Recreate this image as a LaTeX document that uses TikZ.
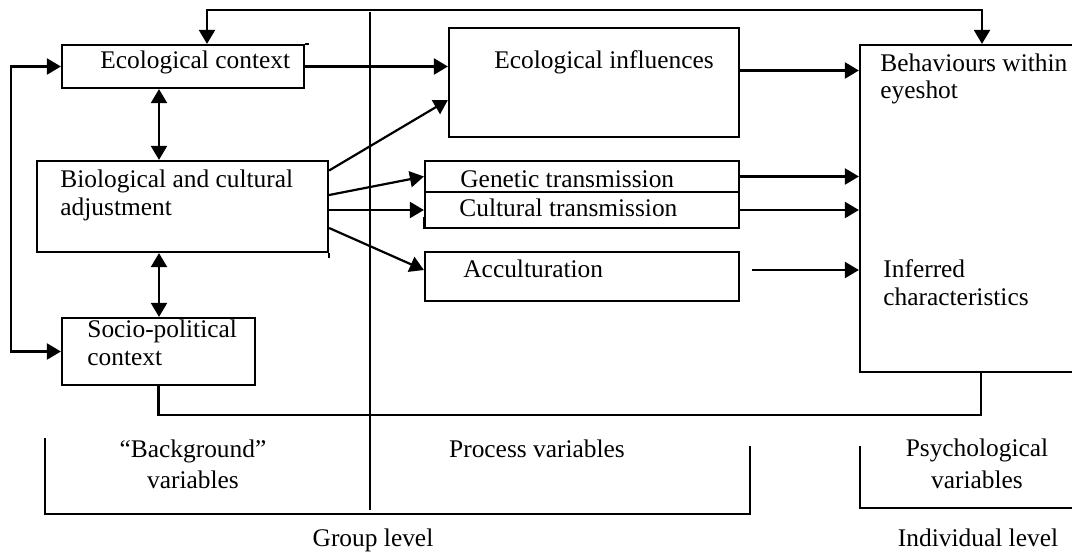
\documentclass[tikz,border=0pt]{standalone}
\usepackage{fontspec}
\setmainfont{Liberation Serif}
\usetikzlibrary{arrows.meta}

\tikzset{
    box/.style={draw, line width=1.1pt, inner sep=0pt},
    lbl/.style={inner sep=0pt, anchor=base west, font=\fontsize{12.7}{14}\selectfont},
    clbl/.style={inner sep=0pt, anchor=base, font=\fontsize{12.7}{14}\selectfont},
    line/.style={line width=1.1pt},
    arr/.style={line width=1.1pt, -{Triangle[length=7pt,width=8pt]}},
    darr/.style={line width=1.1pt, {Triangle[length=7pt,width=8pt]}-{Triangle[length=7pt,width=8pt]}},
}

\begin{document}
\begin{tikzpicture}[x=0.5pt,y=-0.5pt]
    \useasboundingbox (0,0) rectangle (1072,552);

    \coordinate (topl) at (207,10);
    \coordinate (topr) at (982,10);
    \coordinate (loopl) at (11,200);
    \coordinate (vx) at (159,0);
    \coordinate (fb) at (981,415);
    \coordinate (divtop) at (370,12);
    \coordinate (divbot) at (370,510);

    % boxes
    \node[box, minimum width=121pt, minimum height=21.5pt] (ecoctx) at (183,66.5) {};
    \node[box, minimum width=145.5pt, minimum height=45.5pt] (bio) at (182.5,206.5) {};
    \node[box, minimum width=96.5pt, minimum height=33.5pt] (socio) at (158.5,351.5) {};
    \node[box, minimum width=145pt, minimum height=54.5pt] (ecoinf) at (594,82.5) {};
    \node[box, minimum width=157pt, minimum height=15.5pt] (genetic) at (582,176.5) {};
    \node[box, minimum width=157pt, minimum height=18pt] (cultural) at (582,210) {};
    \node[box, minimum width=157pt, minimum height=24.5pt] (accult) at (582,276.5) {};
    \node[box, minimum width=115pt, minimum height=163.5pt] (behav) at (975,208.5) {};
    \draw[line] (cultural.south west) -- ++(0,-12);
    \draw[line] (ecoctx.north east) -- ++(4,0);
    \draw[line] (bio.south east) -- ++(0,5);

    % texts
    \node[lbl] (ecoctx-t) at (100,68) {Ecological context};
    \node[lbl] (bio-t1) at (60,187) {Biological and cultural};
    \node[lbl] (bio-t2) at (60,215) {adjustment};
    \node[lbl] (socio-t1) at (87,337) {Socio-political};
    \node[lbl] (socio-t2) at (87,365) {context};
    \node[lbl] (ecoinf-t) at (494,68) {Ecological influences};
    \node[lbl] (genetic-t) at (460,187) {Genetic transmission};
    \node[lbl] (cultural-t) at (459,216) {Cultural transmission};
    \node[lbl] (accult-t) at (463,277) {Acculturation};
    \node[lbl] (behav-t1) at (880,71) {Behaviours within};
    \node[lbl] (behav-t2) at (880,98) {eyeshot};
    \node[lbl] (infer-t1) at (883,277) {Inferred};
    \node[lbl] (infer-t2) at (883,305) {characteristics};

    \node[clbl] (bg-t1) at (193,457) {``Background''};
    \node[clbl] (bg-t2) at (193,488) {variables};
    \node[clbl] (proc-t) at (537,457) {Process variables};
    \node[clbl] (psy-t1) at (977,456) {Psychological};
    \node[clbl] (psy-t2) at (977,488) {variables};
    \node[clbl] (group-t) at (373,546) {Group level};
    \node[clbl] (indiv-t) at (978,546) {Individual level};

    % connectors
    \draw[darr] (ecoctx.north -| topl) -- (topl) -- (topr) -- (behav.north -| topr);
    \draw[darr] (ecoctx.west) -| (loopl) |- (socio.west);
    \draw[darr] (ecoctx.south -| vx) -- (bio.north -| vx);
    \draw[darr] (bio.south -| vx) -- (socio.north -| vx);
    \draw[arr] (ecoctx.east) -- (ecoctx.east -| ecoinf.west);
    \draw[arr] ([yshift=18pt]bio.east) -- ([yshift=-8.75pt]ecoinf.west);
    \draw[arr] ([yshift=5.75pt]bio.east) -- (genetic.west);
    \draw[arr] (bio.east |- cultural.west) -- (cultural.west);
    \draw[arr] ([yshift=-10.75pt]bio.east) -- ([yshift=3.25pt]accult.west);
    \draw[arr] ([yshift=6pt]ecoinf.east) coordinate (ei) -- (ei -| behav.west);
    \draw[arr] (genetic.east) -- (genetic.east -| behav.west);
    \draw[arr] (cultural.east) -- (cultural.east -| behav.west);
    \draw[arr] ([xshift=6pt,yshift=3.25pt]accult.east) coordinate (ac) -- (ac -| behav.west);
    \draw[line] (socio.south) |- (fb) -- (behav.south -| fb);

    % divider and brackets
    \draw[line] (divtop) -- (divbot);
    \draw[line] (45,438) -- (45,514) -- (750,514) -- (750,446);
    \draw[line] (860,446) -- (860,508) -- (1080,508);
\end{tikzpicture}
\end{document}
